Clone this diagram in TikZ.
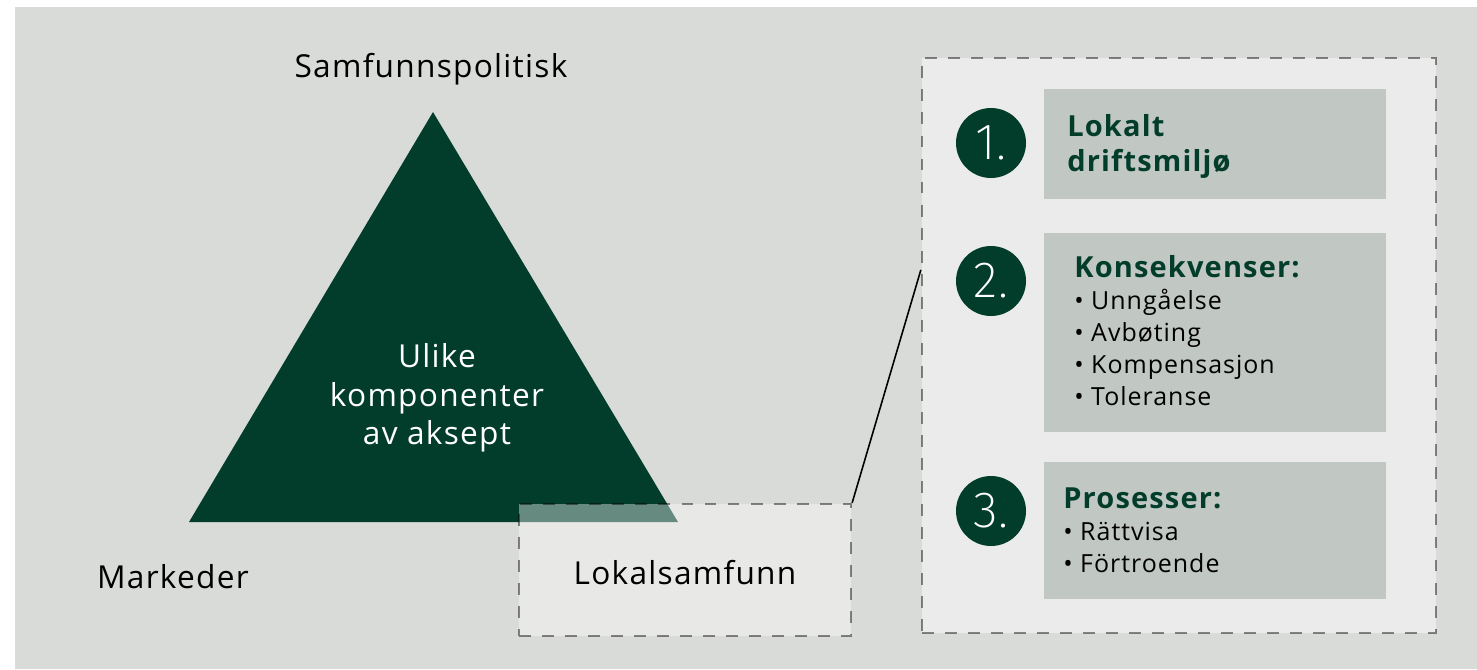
\documentclass[tikz,border=0pt]{standalone}
\usepackage{fontspec}
\setmainfont{Open Sans}[LetterSpace=4]
\newfontfamily\digitfont{Fira Sans ExtraLight}
\usetikzlibrary{calc,positioning}

\definecolor{bggrey}{HTML}{D9DBD8}
\definecolor{forest}{HTML}{023D2C}
\definecolor{panelgrey}{HTML}{EBEBEB}
\definecolor{boxgrey}{HTML}{C1C7C2}

\tikzset{
    dashbox/.style={draw=black, draw opacity=0.45, line width=1.3pt, dash pattern=on 6.8pt off 6.3pt},
    cornerlabel/.style={font=\fontsize{18}{22}\selectfont, anchor=base, inner sep=0pt},
    tritext/.style={font=\fontsize{18}{21.9}\selectfont, text=white, align=center, inner sep=0pt},
    numdisc/.style={circle, fill=forest, text=white, minimum size=14mm, inner sep=0pt,
        font=\digitfont\fontsize{29}{29}\selectfont},
    boxtext/.style={font=\fontsize{14.2}{18.2}\selectfont, anchor=base west, align=left, inner sep=0pt},
    headtext/.style={boxtext, font=\bfseries\fontsize{16.5}{19.4}\selectfont, text=forest}
}

\newcommand\HEAD[1]{{\color{forest}\bfseries\fontsize{16.5}{19.4}\selectfont #1}}

% grey box with its numbered disc: name, top, bottom, disc y, number
\newcommand\NUMBERROW[5]{
    \fill[boxgrey] (1044,#2) rectangle (1386,#3);
    \node[numdisc] (#1) at (991,#4) {#5};
}

\begin{document}
\begin{tikzpicture}[x=0.2mm, y=-0.2mm]
    \useasboundingbox (0,0) rectangle (1477,669);
    \fill[bggrey] (15,7) rectangle (1477,669);

    % Triangle with the three corners.
    \fill[forest] (433,112) -- (189,522) -- (678,522) -- cycle;
    \node[tritext] (aksept) at (437,398) {Ulike\\komponenter\\av aksept};
    \node[cornerlabel] (politisk) at (431,77) {Samfunnspolitisk};
    \node[cornerlabel] (marked) at (173,588) {Markeder};
    \node[dashbox, fill=white, fill opacity=0.4, text opacity=1, minimum width=66.4mm,
        minimum height=26.4mm, text height=16pt, text depth=0pt,
        font=\fontsize{18}{22}\selectfont] (lokal) at (685,570) {Lokalsamfunn};

    % Zoomed panel on the right.
    \node[dashbox, fill=panelgrey, minimum width=102.8mm, minimum height=115mm, inner sep=0pt]
        (panel) at (1179,345.5) {};
    \draw[line width=0.9pt] (lokal.north east) -- ($(panel.north west)!0.369!(panel.south west)$);

    \NUMBERROW{drift}{89}{199}{143}{1.}
    \NUMBERROW{konsekvens}{233}{432}{281}{2.}
    \NUMBERROW{prosess}{462}{599}{511}{3.}

    % base anchor sits on the last line
    \node[headtext] (drifttext) at (1067,171) {Lokalt\\driftsmiljø};
    \node[boxtext] (konsekvenstext) at (1074,405)
        {\HEAD{Konsekvenser:}\\• Unngåelse\\• Avbøting\\• Kompensasjon\\• Toleranse};
    \node[boxtext] (prosesstext) at (1063,572)
        {\HEAD{Prosesser:}\\• Rättvisa\\• Förtroende};
\end{tikzpicture}
\end{document}
